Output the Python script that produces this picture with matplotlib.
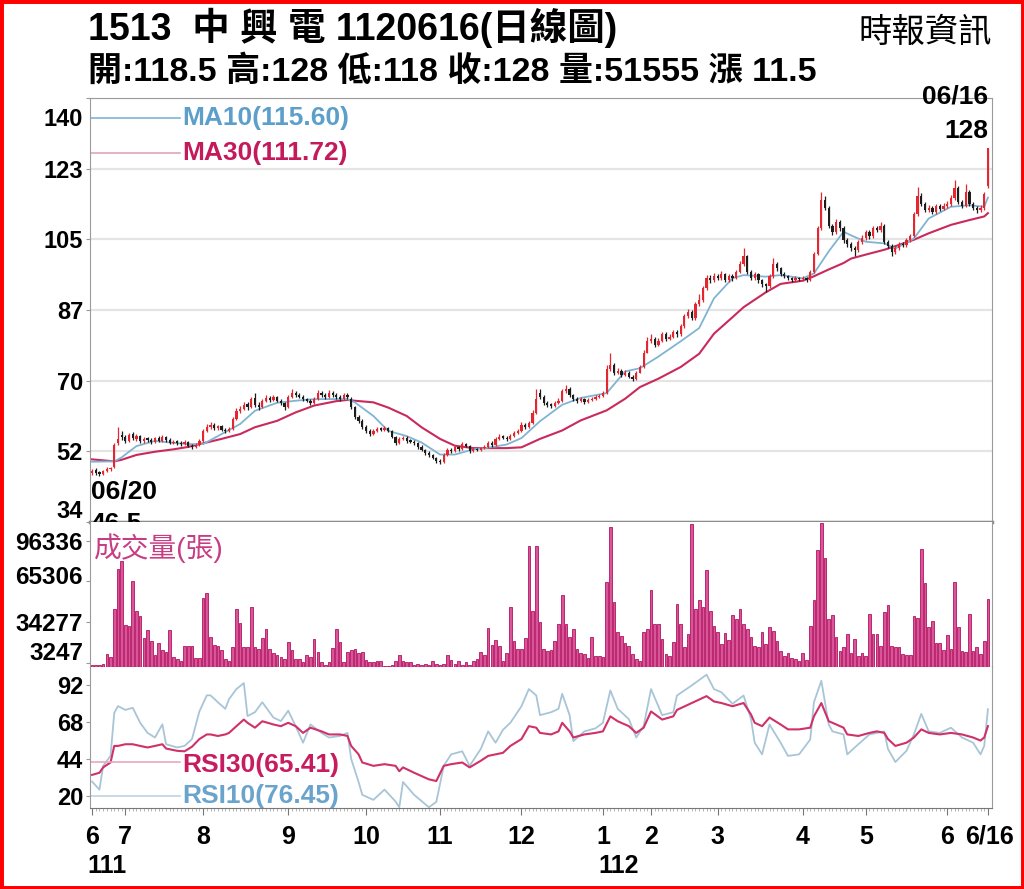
import matplotlib
matplotlib.use("Agg")
import matplotlib.pyplot as plt
from matplotlib.patches import Rectangle
from matplotlib.transforms import ScaledTranslation

# ---- data (trading day index 0 = 06/20, 242 = 06/16) ----
opens = [
    47.0, 47.8, 47.2, 46.8, 47.5, 48.0, 48.5, 54.5, 56.5,
    56.0, 55.0, 56.8, 55.5, 56.2, 55.0, 55.6, 55.2, 54.8, 55.8, 55.0, 56.0, 55.2, 54.5, 55.0, 54.5, 54.2, 54.8, 53.8, 53.5, 54.0,
    55.0, 57.5, 58.5, 59.0, 58.2, 58.6, 57.8, 57.5, 58.0, 60.5, 62.5, 63.0, 64.2, 63.5, 65.8, 64.0, 63.5, 65.0, 65.8, 65.2, 66.0, 65.0, 64.5,
    63.5, 66.0, 67.0, 66.5, 66.0, 65.5, 65.0, 64.5, 65.5, 67.0, 66.5, 66.0, 67.0, 66.5, 66.0, 65.5, 66.5, 65.5, 63.5, 61.0, 60.0,
    58.5, 57.5, 56.8, 57.5, 58.0, 57.8, 58.2, 57.5, 56.0, 54.5, 55.5, 55.8, 55.0, 54.8, 54.5, 53.5, 52.8, 52.0, 51.5, 50.8,
    50.0, 49.8, 51.5, 52.8, 52.5, 53.5, 53.0, 54.2, 53.8, 52.5, 53.0, 52.8, 53.2, 53.5, 54.5, 54.0, 55.5, 56.0, 55.8, 55.5, 56.2, 57.0,
    57.5, 59.0, 58.5, 59.5, 62.0, 67.0, 66.0, 64.5, 64.0, 63.8, 64.5, 65.0, 67.5, 68.0, 66.5, 65.5, 65.0, 65.5, 64.8, 65.2, 65.5, 66.0,
    66.2, 67.0, 73.0, 74.0, 72.0, 72.5, 71.5, 72.0, 71.0, 70.5, 72.0, 73.5, 77.0,
    80.0, 80.5, 79.0, 80.0, 81.5, 80.5, 81.0, 82.0, 81.5, 83.5, 86.0, 87.0, 85.5, 89.0, 90.0, 93.0, 95.5, 95.0,
    96.0, 95.5, 96.5, 95.0, 96.0, 95.5, 97.0, 99.0, 101.0, 97.0, 95.5, 96.5, 95.0, 94.0, 93.5, 96.0, 99.0, 98.0, 96.5, 96.0, 95.5, 95.0, 95.5,
    95.2, 95.5, 95.0, 97.0, 101.5, 108.0, 115.0, 113.0, 108.5, 107.0, 109.5, 108.0, 105.0, 104.0, 103.0, 102.5, 104.5,
    105.5, 107.0, 106.0, 108.0, 107.5, 108.5, 104.5, 103.5, 102.0, 103.0, 104.0, 103.8, 105.0, 106.0, 111.5, 116.0, 114.0, 112.5, 113.0, 112.0, 113.5, 112.8,
    113.5, 114.0, 115.5, 118.0, 114.5, 113.5, 117.0, 114.0, 113.0, 112.5, 113.0, 118.5,
]
closes = [
    47.5, 47.0, 46.8, 47.5, 48.0, 48.2, 54.0, 55.5, 56.0,
    55.0, 56.5, 55.8, 56.2, 55.0, 55.5, 55.2, 54.8, 55.6, 55.0, 56.0, 55.2, 54.6, 54.8, 54.5, 54.2, 54.8, 53.8, 53.5, 54.0, 55.0,
    57.5, 58.5, 59.0, 58.2, 58.6, 57.8, 57.5, 58.0, 60.5, 62.5, 63.0, 64.0, 63.5, 65.5, 64.0, 63.5, 65.0, 65.8, 65.2, 66.0, 65.0, 64.5, 63.5,
    66.0, 67.0, 66.5, 66.0, 65.5, 65.0, 64.5, 65.5, 67.0, 66.5, 66.0, 67.0, 66.5, 66.0, 65.5, 66.5, 66.0, 63.5, 61.0, 60.0, 58.5,
    57.5, 56.8, 57.5, 58.0, 57.8, 58.2, 57.5, 56.0, 54.5, 55.5, 55.8, 55.0, 54.8, 54.5, 53.5, 52.8, 52.0, 51.5, 50.8, 50.0,
    49.8, 51.5, 52.8, 52.5, 53.5, 53.0, 54.2, 53.8, 52.5, 53.0, 52.8, 53.2, 53.5, 54.5, 54.0, 55.5, 56.0, 55.8, 55.5, 56.2, 57.0, 57.5,
    59.0, 58.5, 59.5, 62.0, 65.5, 66.0, 64.5, 64.0, 63.8, 64.5, 65.0, 67.5, 68.0, 66.5, 65.5, 65.0, 65.5, 64.8, 65.2, 65.5, 66.0, 66.2,
    67.0, 73.0, 74.0, 72.0, 72.5, 71.5, 72.0, 71.0, 70.5, 72.0, 73.5, 77.0, 80.0,
    80.5, 79.0, 80.0, 81.5, 80.5, 81.0, 82.0, 81.5, 83.5, 86.0, 87.0, 85.5, 89.0, 90.0, 93.0, 95.5, 95.0, 96.0,
    95.5, 96.5, 95.0, 96.0, 95.5, 97.0, 99.0, 101.0, 97.0, 95.5, 96.5, 95.0, 94.0, 93.5, 96.0, 99.0, 98.0, 96.5, 96.0, 95.5, 95.0, 95.5, 95.2,
    95.5, 95.0, 97.0, 101.5, 108.0, 115.0, 113.0, 108.5, 107.0, 109.5, 108.0, 105.0, 104.0, 103.0, 102.5, 104.5, 105.5,
    107.0, 106.0, 108.0, 107.5, 108.5, 104.5, 103.5, 102.0, 103.0, 104.0, 103.8, 105.0, 106.0, 111.5, 116.0, 114.0, 112.5, 113.0, 112.0, 113.5, 112.8, 113.5,
    114.0, 115.5, 118.0, 114.5, 113.5, 117.0, 114.0, 113.0, 112.5, 113.0, 116.5, 128.0,
]
highs = [
    48.0, 48.2, 47.6, 47.8, 48.4, 48.6, 54.5, 58.5, 57.5,
    56.5, 57.0, 57.2, 56.8, 56.5, 56.0, 56.0, 55.6, 56.0, 56.2, 56.5, 56.3, 55.6, 55.2, 55.3, 54.9, 55.2, 55.0, 54.2, 54.4, 55.4,
    58.0, 59.2, 59.6, 59.4, 59.0, 59.0, 58.2, 58.5, 61.0, 63.2, 63.8, 64.8, 64.8, 66.0, 67.0, 64.6, 65.5, 66.4, 66.2, 66.5, 66.3, 65.4, 64.8,
    66.5, 68.0, 67.5, 67.0, 66.4, 65.8, 65.4, 66.0, 67.8, 67.4, 67.0, 67.6, 67.4, 66.9, 66.4, 67.0, 67.0, 66.0, 63.8, 61.5, 60.4,
    59.0, 57.9, 57.9, 58.5, 58.4, 58.6, 58.5, 57.8, 56.3, 56.0, 56.3, 56.1, 55.4, 55.2, 54.8, 53.9, 53.1, 52.4, 51.8, 51.1,
    50.4, 52.0, 53.2, 53.2, 54.0, 53.8, 54.8, 54.6, 54.0, 53.4, 53.3, 53.6, 53.9, 55.0, 54.9, 56.0, 56.6, 56.4, 56.2, 56.7, 57.5, 58.0,
    59.6, 59.4, 60.0, 62.6, 68.0, 68.0, 66.4, 65.0, 64.5, 65.0, 65.6, 68.0, 68.8, 68.3, 66.8, 65.9, 66.0, 65.8, 65.6, 66.0, 66.5, 66.7,
    67.5, 74.0, 77.0, 74.5, 73.2, 72.9, 72.6, 72.4, 71.4, 72.5, 74.0, 77.6, 80.8,
    81.5, 81.0, 80.6, 82.0, 82.0, 81.6, 82.6, 82.5, 84.0, 86.6, 87.8, 87.5, 89.6, 91.5, 93.6, 96.2, 96.3, 96.8,
    96.6, 97.2, 96.9, 96.6, 96.5, 97.6, 99.8, 103.0, 101.4, 97.5, 97.0, 96.9, 95.4, 94.4, 96.6, 100.5, 99.6, 98.4, 97.0, 96.4, 95.9, 96.0, 95.9,
    96.0, 95.9, 97.5, 102.0, 108.6, 117.0, 116.0, 113.5, 109.0, 110.2, 110.0, 108.5, 105.6, 104.5, 103.6, 105.0, 106.2,
    107.6, 107.5, 108.6, 108.6, 109.5, 109.0, 105.0, 104.0, 103.6, 104.6, 104.5, 105.6, 106.6, 112.0, 118.3, 116.8, 114.6, 113.8, 113.4, 114.0, 114.0, 114.2,
    114.8, 116.2, 120.0, 118.5, 115.0, 119.0, 117.5, 114.5, 113.6, 113.8, 117.0, 128.0,
]
lows = [
    46.5, 46.6, 46.3, 46.5, 47.2, 47.6, 48.2, 54.0, 55.2,
    54.5, 54.8, 55.3, 55.0, 54.6, 54.6, 54.8, 54.3, 54.5, 54.7, 54.8, 54.8, 54.2, 54.2, 54.0, 53.8, 54.0, 53.4, 53.0, 53.2, 53.8,
    54.8, 57.2, 58.0, 57.8, 57.8, 57.4, 57.0, 57.2, 57.8, 60.2, 62.0, 62.6, 62.8, 63.2, 63.5, 62.8, 63.2, 64.6, 64.8, 64.9, 64.6, 64.0, 62.8,
    63.2, 65.6, 66.0, 65.6, 65.0, 64.6, 64.0, 64.2, 65.2, 66.0, 65.5, 65.7, 66.0, 65.5, 65.0, 65.2, 65.5, 63.0, 60.5, 59.5, 58.0,
    57.0, 56.3, 56.5, 57.2, 57.4, 57.5, 57.1, 55.6, 54.0, 54.2, 55.2, 54.6, 54.4, 54.0, 53.0, 52.4, 51.6, 51.0, 50.4, 49.6,
    49.3, 49.6, 51.2, 52.0, 52.2, 52.6, 52.8, 53.4, 52.0, 52.2, 52.4, 52.5, 52.9, 53.3, 53.6, 53.8, 55.2, 55.4, 55.0, 55.2, 56.0, 56.7,
    57.3, 58.0, 58.2, 59.3, 61.8, 65.5, 64.0, 63.5, 63.2, 63.4, 64.2, 64.8, 67.0, 66.0, 65.0, 64.4, 64.7, 64.3, 64.5, 64.9, 65.2, 65.6,
    65.9, 66.8, 72.5, 71.5, 71.6, 71.0, 71.2, 70.6, 70.0, 70.2, 71.8, 73.2, 76.8,
    79.5, 78.5, 78.6, 79.6, 80.0, 80.2, 80.6, 81.0, 81.2, 83.2, 85.6, 85.0, 85.2, 88.5, 89.6, 92.6, 94.4, 94.6,
    95.0, 95.0, 94.5, 94.6, 94.8, 95.2, 96.7, 98.6, 96.5, 95.0, 95.0, 94.4, 93.4, 92.0, 93.2, 95.6, 97.4, 96.0, 95.5, 95.0, 94.5, 94.6, 94.8,
    94.8, 94.5, 94.8, 96.8, 101.2, 107.6, 112.4, 108.0, 106.4, 106.6, 107.4, 104.4, 103.4, 102.4, 101.0, 102.0, 104.0,
    105.0, 105.4, 105.6, 107.0, 107.0, 104.0, 103.0, 101.0, 101.6, 102.6, 103.2, 103.4, 104.6, 105.8, 111.0, 113.4, 112.0, 112.0, 111.5, 111.6, 112.2, 112.4,
    113.0, 113.6, 115.0, 114.0, 113.0, 113.2, 113.5, 112.5, 111.8, 112.0, 112.6, 118.0,
]
volumes = [
    1500, 1200, 1800, 2000, 10000, 8000, 44000, 74500, 81000,
    32000, 31000, 65500, 42400, 38500, 21800, 28300, 20000, 9000, 18000, 12800, 11600, 28300, 7700, 6000, 4400, 16000, 16000, 16000, 7000, 7000,
    52700, 56500, 23000, 17000, 16000, 12800, 6000, 4600, 15400, 44000, 33400, 15400, 15400, 45500, 15400, 14000, 21800, 29000, 14000, 10300, 9000, 7700, 6400,
    19300, 12800, 6400, 6000, 3900, 9500, 7700, 21300, 11600, 3900, 1300, 3900, 14700, 28800, 19300, 3900, 11600, 12800, 14000, 11000, 11600,
    5100, 3900, 3900, 4600, 4600, 800, 800, 1300, 4400, 9000, 4400, 3900, 3900, 1800, 2600, 1800, 2600, 1800, 4400, 2600,
    1800, 2600, 9500, 5700, 2600, 4400, 1800, 3900, 1800, 4400, 6400, 11600, 9500, 29500, 16700, 20500, 16000, 4400, 11000, 46000, 19800, 14000,
    14000, 21800, 92500, 43000, 92500, 34000, 13600, 12300, 12800, 20000, 33000, 54700, 33000, 22600, 29000, 13600, 10300, 9800, 7200, 22600, 8500, 8500,
    7700, 65000, 107000, 49600, 26500, 24000, 18000, 16200, 9800, 5900, 4600, 26500, 29000,
    59000, 33000, 33000, 21300, 9800, 8500, 18800, 48300, 33000, 14900, 25200, 109000, 44500, 51000, 46000, 74000, 43000, 31600,
    26500, 17500, 25700, 20600, 39300, 36700, 44500, 33000, 29000, 23100, 16200, 14900, 26500, 17500, 30300, 27800, 20000, 12300, 8500, 11000, 7200, 5900, 4600,
    11000, 5100, 31600, 51400, 89400, 110000, 83000, 36700, 39300, 22600, 12300, 15400, 25200, 11000, 21300, 8500, 11000,
    8500, 40600, 25200, 25200, 16200, 42000, 47000, 16200, 14900, 14900, 9800, 9300, 9300, 38800, 37500, 90000, 63700, 30300, 35000, 18000, 18000, 12800,
    24700, 13600, 65000, 30300, 12300, 11800, 40600, 12300, 15400, 9800, 20000, 51555,
]

# moving averages read at sample days
ma_x = [0, 6, 8, 12, 17, 22, 26, 30, 35, 40, 44, 50, 55, 60, 66, 69, 71, 76, 80, 85,
        89, 94, 98, 103, 107, 112, 116, 121, 127, 132, 139, 144, 148, 153, 159, 164, 168, 173, 176, 182,
        186, 192, 195, 199, 203, 205, 209, 214, 217, 222, 226, 232, 237, 241, 242]
ma10 = [49.8, 49.9, 50.9, 53.7, 55.0, 54.5, 54.2, 54.2, 56.7, 59.2, 62.5, 64.5, 65.0, 65.4, 65.4, 65.4, 64.6, 61.2, 57.5, 56.2,
        54.6, 51.6, 51.6, 52.9, 53.3, 54.1, 55.7, 59.9, 64.0, 65.7, 66.9, 72.3, 73.1, 76.0, 79.8, 83.1, 90.5, 95.5, 96.3, 95.9,
        96.3, 95.5, 96.7, 102.2, 107.1, 106.2, 104.6, 104.2, 102.9, 105.4, 110.4, 113.3, 113.7, 113.3, 115.60]
ma30 = [50.4, 49.9, 50.3, 51.5, 52.3, 52.9, 53.5, 54.4, 55.5, 56.7, 58.4, 60.0, 62.1, 63.8, 64.9, 65.2, 65.0, 64.6, 63.3, 61.2,
        58.4, 55.5, 53.8, 53.2, 53.2, 53.2, 53.4, 55.5, 57.6, 60.1, 62.6, 65.5, 68.4, 70.5, 73.4, 76.7, 81.7, 85.8, 88.3, 92.0,
        94.1, 94.9, 96.0, 97.7, 99.3, 100.4, 101.4, 102.6, 103.5, 105.1, 106.7, 108.8, 110.0, 110.9, 111.72]

# RSI read at sample days
rsi_x = [0, 2, 3, 5, 6, 7, 9, 11, 13, 15,
         17, 19, 20, 23, 25, 27, 29, 31, 32, 34,
         36, 37, 39, 41, 42, 44, 46, 49, 51, 53,
         55, 57, 59, 62, 64, 67, 69, 70, 72, 73,
         76, 79, 82, 83, 84, 87, 91, 93, 95, 97,
         100, 102, 105, 107, 109, 111, 113, 116, 118, 120,
         121, 124, 126, 127, 129, 130, 133, 136, 138, 140,
         142, 145, 147, 149, 151, 154, 157, 158, 162, 166,
         168, 170, 173, 176, 178, 179, 181, 183, 186, 188,
         191, 194, 195, 197, 199, 200, 203, 204, 207, 210,
         212, 214, 215, 217, 220, 222, 224, 226, 229, 232,
         235, 238, 240, 241, 242]
rsi10 = [29.3, 24.0, 39.5, 46.0, 74.0, 78.5, 76.0, 77.4, 67.6, 61.0,
         58.0, 66.6, 53.6, 51.5, 52.5, 57.0, 75.0, 85.5, 85.5, 81.0,
         76.7, 83.0, 89.6, 93.5, 72.0, 74.5, 81.0, 71.0, 68.7, 75.5,
         65.4, 54.6, 66.5, 61.0, 58.0, 59.0, 61.0, 44.0, 29.0, 20.6,
         17.3, 24.0, 16.2, 12.5, 29.0, 20.6, 12.5, 16.0, 39.5, 47.0,
         49.0, 39.5, 50.5, 62.0, 54.6, 63.0, 67.6, 78.4, 89.6, 85.4,
         72.6, 74.5, 76.7, 86.5, 72.6, 55.6, 62.0, 64.0, 67.6, 88.7,
         76.7, 70.0, 58.0, 65.4, 89.6, 72.6, 74.5, 85.4, 92.0, 99.0,
         89.6, 87.5, 80.0, 85.4, 70.0, 54.6, 47.0, 66.5, 54.6, 46.0,
         47.0, 56.7, 81.0, 95.0, 66.5, 62.0, 60.0, 47.0, 53.6, 60.0,
         61.0, 62.0, 50.5, 42.0, 49.3, 60.0, 73.4, 62.0, 61.0, 64.4,
         58.0, 54.6, 47.0, 52.5, 76.45]
rsi30 = [33.6, 35.0, 38.5, 41.7, 52.5, 52.5, 53.6, 53.6, 52.5, 51.5,
         52.5, 53.6, 50.8, 49.3, 49.0, 52.0, 57.0, 60.0, 60.0, 59.0,
         60.0, 61.0, 65.4, 69.7, 67.6, 64.4, 68.6, 66.5, 65.4, 67.6,
         65.4, 61.0, 64.4, 62.0, 60.0, 60.0, 59.0, 52.5, 47.0, 41.7,
         39.5, 40.6, 39.5, 36.0, 38.5, 35.0, 30.7, 29.6, 39.5, 40.6,
         41.7, 38.5, 42.8, 46.0, 47.0, 48.0, 52.5, 57.0, 65.4, 64.4,
         61.0, 60.0, 62.0, 67.6, 62.0, 58.0, 60.0, 61.0, 62.0, 71.8,
         68.6, 65.4, 61.0, 64.4, 75.0, 69.7, 71.8, 76.0, 80.5, 85.0,
         81.5, 80.5, 78.4, 80.5, 73.0, 67.6, 65.4, 71.0, 66.5, 63.3,
         63.3, 64.4, 71.8, 80.5, 68.6, 67.6, 64.4, 60.0, 59.0, 61.0,
         62.0, 61.0, 57.0, 52.5, 54.6, 58.0, 63.3, 61.0, 60.0, 61.0,
         60.0, 58.0, 56.0, 58.0, 65.41]

month_idx = [0, 9, 30, 53, 74, 94, 116, 138, 151, 169, 192, 209, 231, 242]
month_labels = ['6', '7', '8', '9', '10', '11', '12', '1', '2', '3', '4', '5', '6', '6/16']
year_idx = [0, 138]
year_labels = ['111', '112']

price_ticks = [34.8, 52.4, 70.0, 87.6, 105.2, 122.8, 140.4]
price_labels = ['34', '52', '70', '87', '105', '123', '140']
vol_ticks = [3247, 34277, 65306, 96336]
rsi_ticks = [20, 44, 68, 92]

first_date, last_date = '06/20', '06/16'

assert len(opens) == len(closes) == len(highs) == len(lows) == len(volumes)
assert len(ma_x) == len(ma10) == len(ma30)
assert len(rsi_x) == len(rsi10) == len(rsi30)

# ---- style ----
RED = '#e3262f'
BLACK = '#1c1c1c'
MA10_C = '#80b4d4'
MA30_C = '#c92a5b'
VOL_FACE = '#d9559b'
VOL_EDGE = '#b3125d'
RSI10_C = '#a8c5d8'
RSI30_C = '#cf3168'
GRID = '#e4e4e4'
FRAME = '#9a9a9a'

plt.rcParams['font.family'] = ['Liberation Sans', 'Noto Sans CJK TC', 'DejaVu Sans']
plt.rcParams['font.weight'] = 'bold'

W, H = 1024, 889
fig = plt.figure(figsize=(W / 100, H / 100), dpi=100)


def fx(px):
    return px / W


def fy(py):
    return 1 - py / H


L, R = 90, 992
P_TOP, P_BOT, V_BOT, R_BOT = 98, 522, 667, 808
ax_p = fig.add_axes([fx(L), fy(P_BOT), fx(R) - fx(L), fy(P_TOP) - fy(P_BOT)])
ax_v = fig.add_axes([fx(L), fy(V_BOT), fx(R) - fx(L), fy(P_BOT) - fy(V_BOT)], sharex=ax_p)
ax_r = fig.add_axes([fx(L), fy(R_BOT), fx(R) - fx(L), fy(V_BOT) - fy(R_BOT)], sharex=ax_p)

days = list(range(len(closes)))
ax_p.set_xlim(-0.55, 243.1)

# ---- price panel ----
cols = [RED if c >= o else BLACK for o, c in zip(opens, closes)]
ax_p.vlines(days, lows, highs, colors=cols, lw=0.9, zorder=3)
bottoms = [min(o, c) for o, c in zip(opens, closes)]
heights = [max(abs(c - o), 0.3) for o, c in zip(opens, closes)]
ax_p.bar(days, heights, bottom=bottoms, width=0.6, color=cols, lw=0, zorder=3)
ax_p.plot(ma_x, ma30, color=MA30_C, lw=1.5, zorder=2)
ax_p.plot(ma_x, ma10, color=MA10_C, lw=1.3, zorder=2)

ax_p.set_ylim(price_ticks[0], price_ticks[-1])
ax_p.set_yticks(price_ticks, price_labels)
ax_p.grid(axis='y', color=GRID, lw=1.6, zorder=0)
ax_p.tick_params(axis='y', length=3, color=FRAME, labelsize=17, pad=2)
ax_p.tick_params(axis='x', length=0, labelbottom=False)
ylabs = ax_p.get_yticklabels()
ylabs[-1].set_transform(ylabs[-1].get_transform() + ScaledTranslation(0, -0.19, fig.dpi_scale_trans))
ylabs[0].set_transform(ylabs[0].get_transform() + ScaledTranslation(0, 0.13, fig.dpi_scale_trans))

for s in ['left', 'right', 'top']:
    ax_p.spines[s].set_color(FRAME)
ax_p.spines['bottom'].set_color('#8c8c8c')
ax_p.spines['bottom'].set_linewidth(2.5)

# legend samples
ax_p.plot([0, 0.0998], [0.953, 0.953], transform=ax_p.transAxes, color=MA10_C, lw=1.2)
ax_p.plot([0, 0.0998], [0.870, 0.870], transform=ax_p.transAxes, color='#e3a3b8', lw=1.2)
ax_p.text(0.102, 0.953, f'MA10({ma10[-1]:.2f})', transform=ax_p.transAxes,
          color='#5c9fcb', fontsize=19, va='center')
ax_p.text(0.102, 0.870, f'MA30({ma30[-1]:.2f})', transform=ax_p.transAxes,
          color='#c4195a', fontsize=19, va='center')

# first / last annotations
fig.text(fx(988), fy(97), last_date, ha='right', va='center', fontsize=19)
fig.text(fx(988), fy(131), f'{closes[-1]:g}', ha='right', va='center', fontsize=19)
ax_p.text(-0.3, 42.4, first_date, ha='left', va='center', fontsize=19)
ax_p.text(-0.3, 34.3, f'{lows[0]:g}', ha='left', va='center', fontsize=19, clip_on=True)

# ---- volume panel ----
ax_v.bar(days, volumes, width=0.72, color=VOL_FACE, edgecolor=VOL_EDGE, lw=0.6)
ax_v.set_ylim(0, 110500)
ax_v.set_yticks(vol_ticks, [str(v) for v in vol_ticks])
ax_v.tick_params(axis='y', length=3, color=FRAME, labelsize=17.5, pad=2)
ax_v.tick_params(axis='x', length=0, labelbottom=False)
vlabs = ax_v.get_yticklabels()
vlabs[0].set_transform(vlabs[0].get_transform() + ScaledTranslation(0, 0.12, fig.dpi_scale_trans))
vlabs[2].set_transform(vlabs[2].get_transform() + ScaledTranslation(0, 0.06, fig.dpi_scale_trans))
ax_v.spines['top'].set_visible(False)
for s in ['left', 'right']:
    ax_v.spines[s].set_color(FRAME)
ax_v.spines['bottom'].set_color(VOL_EDGE)
ax_v.text(0.004, 0.82, '成交量(張)', transform=ax_v.transAxes, color='#c63d84',
          fontsize=20, fontweight='normal', va='center', ha='left')

# ---- RSI panel ----
ax_r.plot(rsi_x, rsi10, color=RSI10_C, lw=1.3)
ax_r.plot(rsi_x, rsi30, color=RSI30_C, lw=1.5)
ax_r.set_ylim(12, 104)
ax_r.set_yticks(rsi_ticks, [str(v) for v in rsi_ticks])
ax_r.tick_params(axis='y', length=3, color=FRAME, labelsize=17, pad=2)
ax_r.spines['top'].set_visible(False)
for s in ['left', 'right']:
    ax_r.spines[s].set_color(FRAME)
ax_r.spines['bottom'].set_color('#777777')

ax_r.plot([0, 0.0998], [0.326, 0.326], transform=ax_r.transAxes, color='#e8a9bd', lw=1.2)
ax_r.plot([0, 0.0998], [0.085, 0.085], transform=ax_r.transAxes, color='#bcd3e2', lw=1.2)
ax_r.text(0.102, 0.305, f'RSI30({rsi30[-1]:.2f})', transform=ax_r.transAxes,
          color='#c81c61', fontsize=19, va='center')
ax_r.text(0.102, 0.085, f'RSI10({rsi10[-1]:.2f})', transform=ax_r.transAxes,
          color='#6aa3cc', fontsize=19, va='center')

ax_r.set_xticks(month_idx, month_labels)
ax_r.set_xticks(days, minor=True)
ax_r.tick_params(axis='x', which='major', length=5, color='#777777', labelsize=18, pad=7)
ax_r.tick_params(axis='x', which='minor', length=2.5, color='#aaaaaa')
ax_r.get_xticklabels()[-1].set_transform(
    ax_r.get_xticklabels()[-1].get_transform() + ScaledTranslation(0.02, 0, fig.dpi_scale_trans))

for i, lab in zip(year_idx, year_labels):
    t = ax_r.text(i, -0.41, lab, transform=ax_r.get_xaxis_transform(), ha='left',
                  va='center', fontsize=18)
    t.set_transform(t.get_transform() + ScaledTranslation(-0.05, 0, fig.dpi_scale_trans))

# ---- header ----
fig.text(fx(88), fy(28), '1513  中 興 電 1120616(日線圖)', ha='left', va='center', fontsize=27)
fig.text(fx(992), fy(33), '時報資訊', ha='right', va='center', fontsize=24, fontweight='normal')
fig.text(fx(88), fy(72), '開:118.5 高:128 低:118 收:128 量:51555 漲 11.5',
         ha='left', va='center', fontsize=24.5)

fig.add_artist(Rectangle((0, 0), 1, 1, transform=fig.transFigure, fill=False,
                         edgecolor='#ff0000', lw=5))

fig.savefig('out.png', dpi=100)
